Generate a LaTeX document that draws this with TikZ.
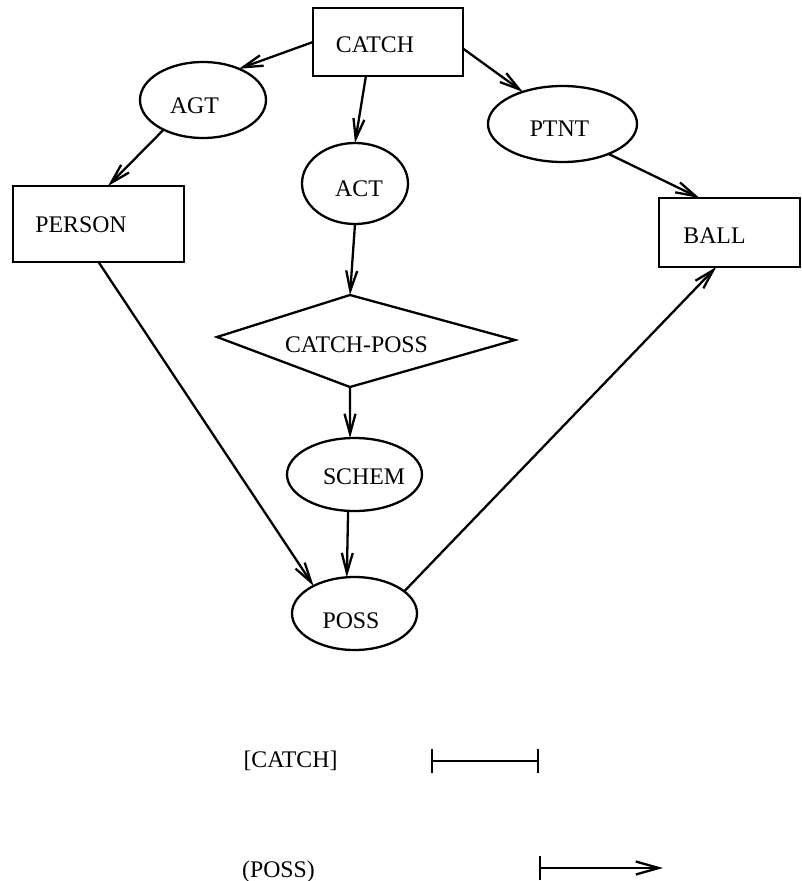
\documentclass[tikz,border=0pt]{standalone}
\usepackage{fontspec}
\setmainfont{Liberation Serif}
\usetikzlibrary{arrows.meta,shapes.geometric}

\begin{document}
\begin{tikzpicture}[x=1pt, y=-1pt,
  line width=2.3pt, line join=miter,
  box/.style={draw, rectangle, inner sep=0pt, outer sep=0pt},
  oval/.style={draw, ellipse, inner sep=0pt, outer sep=0pt},
  lbl/.style={inner sep=0pt, anchor=base, font=\fontsize{23.8}{28}\selectfont},
  arr/.style={-{Straight Barb[length=20pt, width=11pt]}},
  legarr/.style={{Bar[width=24pt]}-{Straight Barb[length=23pt, width=13pt]}},
  legbar/.style={{Bar[width=24pt]}-{Bar[width=24pt]}}
]
\useasboundingbox (0,0) rectangle (801,881);

% frames and ovals
\node[box, minimum width=150pt, minimum height=68pt] (catch) at (388,42) {};
\node[box, minimum width=171pt, minimum height=76pt] (person) at (98.5,224) {};
\node[box, minimum width=141pt, minimum height=69pt] (ball) at (729.5,232.5) {};
\node[oval, minimum width=126pt, minimum height=76pt] (agt) at (203,100) {};
\node[oval, minimum width=149pt, minimum height=76pt] (ptnt) at (562.5,124) {};
\node[oval, minimum width=106pt, minimum height=81pt] (act) at (355,183.5) {};
\node[oval, minimum width=135pt, minimum height=73pt] (schem) at (354.5,474.5) {};
\node[oval, minimum width=125pt, minimum height=73pt] (poss) at (354.5,613.5) {};

% the CATCH-POSS diamond
\coordinate (dtop) at (350,295);
\coordinate (dright) at (515,340);
\coordinate (dbot) at (350,387);
\coordinate (dleft) at (217,337);
\draw (dtop) -- (dright) -- (dbot) -- (dleft) -- cycle;

% labels
\node[lbl] (catchT) at (375,52) {CATCH};
\node[lbl] (agtT) at (194.5,113) {AGT};
\node[lbl] (actT) at (359,196) {ACT};
\node[lbl] (ptntT) at (559.5,136) {PTNT};
\node[lbl] (personT) at (81,232) {PERSON};
\node[lbl] (ballT) at (714.5,243) {BALL};
\node[lbl] (cpossT) at (356.5,352) {CATCH-POSS};
\node[lbl] (schemT) at (364,484) {SCHEM};
\node[lbl] (possT) at (351,628) {POSS};

% connectors
\draw[arr] (catch.west) -- (agt.41);
\draw[arr] (catch.237.8) -- (act.north);
\draw[arr] (catch.355.4) -- (ptnt.141.3);
\draw[arr] (agt.217.3) -- (person.76);
\draw[arr] (ptnt.327.8) -- (ball.131.2);
\draw[arr] (act.south) -- (dtop);
\draw[arr] (dbot) -- (schem.97);
\draw[arr] (schem.260) -- (poss.102);
\draw[arr] (person.south) -- (poss.146.2);
\draw[arr] (poss.24.7) -- (ball.249.5);

% legend
\node[lbl] (legCatch) at (290.5,767) {[CATCH]};
\node[lbl] (legPoss) at (278.5,877) {(POSS)};
\coordinate (c1a) at (431,761);
\coordinate (c1b) at (539,761);
\coordinate (p1a) at (539,868);
\coordinate (p1b) at (663,868);
\draw[legbar] (c1a) -- (c1b);
\draw[legarr] (p1a) -- (p1b);
\end{tikzpicture}
\end{document}
